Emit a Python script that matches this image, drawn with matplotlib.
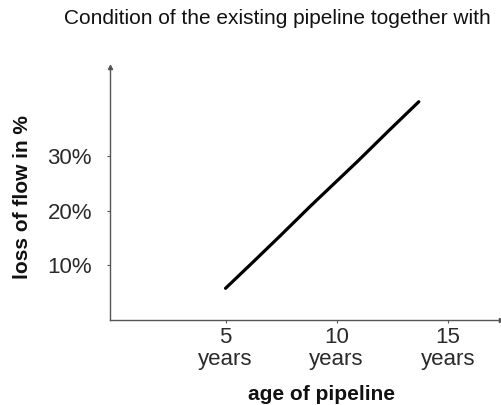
import matplotlib
matplotlib.use("Agg")
import matplotlib.pyplot as plt

# loss of flow vs. age of pipeline
age_years = [5.0, 6.26, 7.48, 8.83, 10.95, 12.4, 13.7]
loss_pct = [5.8, 10.7, 15.5, 20.9, 29.1, 34.9, 40.0]

x_ticks = [5, 10, 15]
x_tick_labels = ["5\nyears", "10\nyears", "15\nyears"]
y_ticks = [10, 20, 30]
y_tick_labels = ["10%", "20%", "30%"]

plt.rcParams["font.family"] = ["Liberation Sans", "DejaVu Sans"]

fig = plt.figure(figsize=(5.01, 4.05), dpi=100)
ax = fig.add_axes([0.2196, 0.21, 0.7804, 0.625])

ax.plot(age_years, loss_pct, color="black", lw=2.3, solid_capstyle="round")

ax.set_xlim(-0.2, 17.4)
ax.set_ylim(0, 46.4)

for s in ("top", "right"):
    ax.spines[s].set_visible(False)
for s in ("left", "bottom"):
    ax.spines[s].set_color("#555555")
    ax.spines[s].set_linewidth(1.0)

# arrow heads at the axis ends
ax.plot(1, 0, ">", color="#555555", ms=3, transform=ax.transAxes, clip_on=False)
ax.plot(0, 1, "^", color="#555555", ms=3, transform=ax.transAxes, clip_on=False)

ax.set_xticks(x_ticks)
ax.set_xticklabels(x_tick_labels, fontsize=16, color="#2a2a2a", linespacing=1.05)
ax.set_yticks(y_ticks)
ax.set_yticklabels(y_tick_labels, fontsize=16, color="#2a2a2a")
ax.tick_params(axis="x", length=2, width=0.8, color="#555555", pad=3)
ax.tick_params(axis="y", length=2, width=0.8, color="#555555", pad=11)

fig.text(321 / 501, 1 - 395 / 405, "age of pipeline", fontsize=15,
         fontweight="bold", color="#111111", ha="center", va="center")
fig.text(23 / 501, 1 - 197 / 405, "loss of flow in %", fontsize=15,
         fontweight="bold", color="#111111", ha="center", va="center",
         rotation=90)

fig.text(0.128, 0.955, "Condition of the existing pipeline together with",
         fontsize=15, ha="left", va="center", color="#111111")

fig.savefig("out.png", dpi=100)
